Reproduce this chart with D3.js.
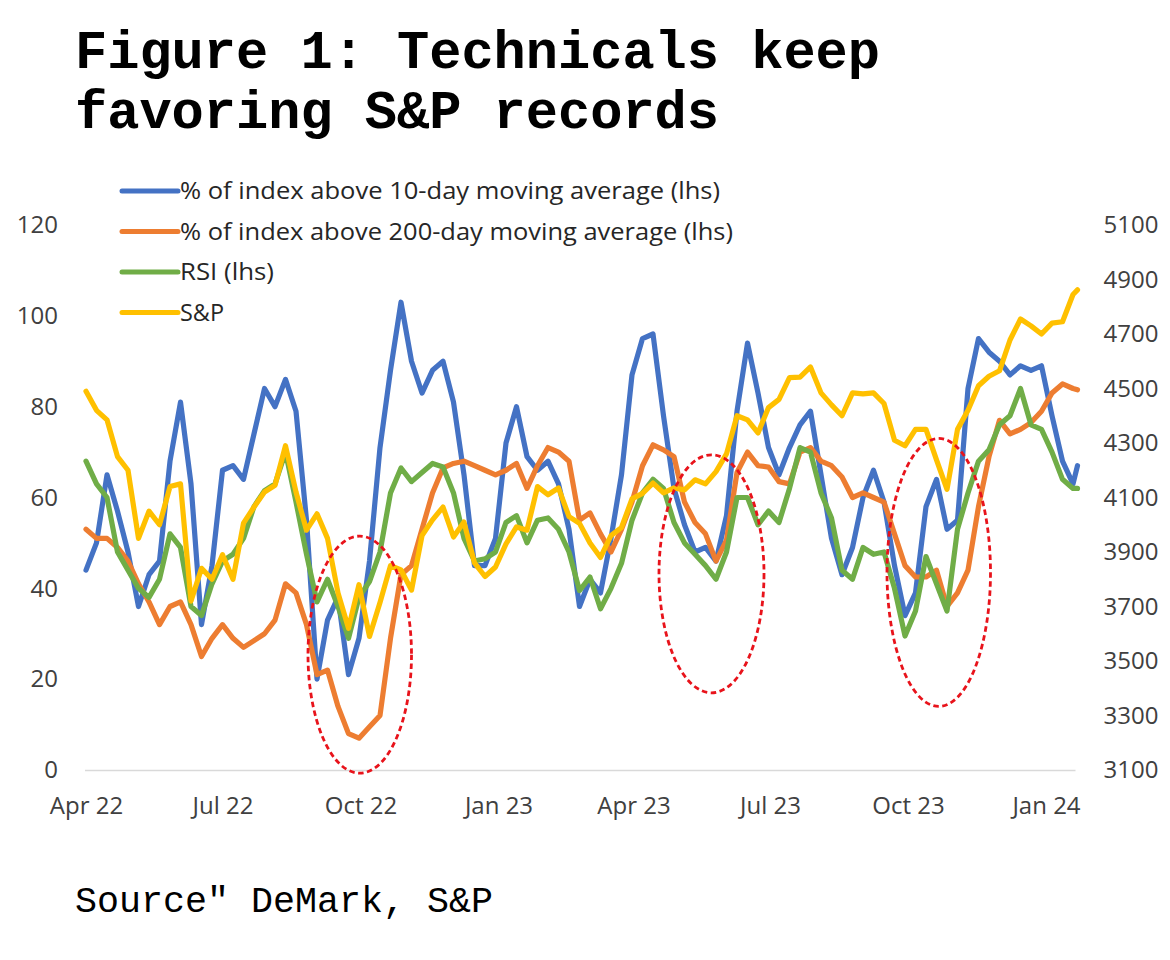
<!DOCTYPE html>
<html>
<head>
<meta charset="utf-8">
<script src="https://cdnjs.cloudflare.com/ajax/libs/d3/7.8.5/d3.min.js"></script>
<style>
  body { margin: 0; background: #ffffff; }
  svg { display: block; }
</style>
</head>
<body>
<svg id="chart" width="1170" height="960"></svg>
<script>
// ---------------- DATA ----------------
const titleLines = ["Figure 1: Technicals keep", "favoring S&P records"];
const sourceText = "Source\" DeMark, S&P";

const seriesNames = [
  "% of index above 10-day moving average (lhs)",
  "% of index above 200-day moving average (lhs)",
  "RSI (lhs)",
  "S&P"
];

// weekly observations starting 2022-04-01, last point 2024-01-22
const firstDate = "2022-04-01";
const lastDate = "2024-01-22";

const above10dma = [44,50,65,57,48,36,43,46,68,81, 63,32,45,66,67,64,74,84,80,86,
  79,55,20,33,38,21,29,46,71,88, 103,90,83,88,90,81,65,45,45,51, 72,80,69,66,68,63,53,36,42,39,
  51,65,87,95,96,78,62,54,48,49, 46,56,79,94,83,71,65,71,76,79, 65,51,43,49,60,66,59,45,34,39,
  58,64,53,55,84,95,92,90,87,89, 88,89,78,68,63,67];

const above200dma = [53,51,51,49,46,41,37,32,36,37, 32,25,29,32,29,27,28.5,30,33,41,
  39,32,21,22,14,8,7,9.5,12,29, 43,45,53,61,66.5,67.5,68,67,66,65, 66,67.5,62,67,71,70,68,55,56.6,52,
  48,53,59,67,71.6,70.5,69,59,54.5,52, 46,50.6,65.5,70,67,66.7,63.5,63,70,71, 68,67,64.5,60,61,60,59,52,45,42.5,
  42.5,44,36,39,44,58,69,77,74,75, 76.5,79,83,85,84,83.7];

const rsi = [68,63,60,48,44,40,38,42,52,49, 36,34,41,46,47.5,51,58,61.5,63,70,
  59,47.5,37,42,36,29,38,41.5,48,61, 66.5,63.5,65.5,67.5,66.7,61,51,46,46.5,48, 54.5,56,50,55,55.5,53,48,39.5,42.5,35.5,
  40,45.5,55,61,64,62,54.5,50,47.5,45, 42,48,60,60,54,57,54.5,62,71,70, 61,55.5,44,42,49,47.5,48,40,29.5,35,
  47,41,35,53,61,68,70.5,76,78,84, 76,75,70,64,62,62];

const spx = [4490,4420,4385,4250,4200,3950,4050,4000,4140,4150, 3720,3840,3800,3890,3800,4006,4065,4120,4145,4290,
  4120,3980,4040,3950,3750,3620,3780,3590,3715,3850, 3834,3760,3960,4018,4065,3955,4010,3860,3810,3845,
  3930,3992,3980,4140,4110,4135,4030,4005,3933,3880, 3960,3990,4095,4115,4153,4117,4135,4128,4165,4150,
  4195,4260,4400,4385,4337,4430,4460,4540,4542,4579, 4484,4440,4400,4484,4480,4484,4445,4310,4290,4350,
  4350,4238,4130,4350,4420,4510,4545,4565,4678,4755, 4730,4700,4740,4745,4845,4862];

const leftTicks = [0, 20, 40, 60, 80, 100, 120];
const rightTicks = [3100, 3300, 3500, 3700, 3900, 4100, 4300, 4500, 4700, 4900, 5100];
const monthTickDates = ["2022-04-01","2022-07-01","2022-10-01","2023-01-01","2023-04-01","2023-07-01","2023-10-01","2024-01-01"];
const monthLabels = ["Apr 22","Jul 22","Oct 22","Jan 23","Apr 23","Jul 23","Oct 23","Jan 24"];

// highlighted zones (dashed ellipses), in data units
const zoneStart = ["2022-08-27", "2023-04-18", "2023-09-17"];
const zoneEnd   = ["2022-11-04", "2023-06-27", "2023-11-25"];
const zoneTop    = [51.5, 69.4, 73];
const zoneBottom = [-0.7, 17, 14];

// ---------------- LAYOUT / STYLE ----------------
const colors = ["#4472C4", "#ED7D31", "#70AD47", "#FFC000"];
const parse = d3.timeParse("%Y-%m-%d");
const start = parse(firstDate);
const nWeekly = above10dma.length - 1;
const dates = d3.range(nWeekly).map(i => d3.timeDay.offset(start, 7 * i)).concat([parse(lastDate)]);

const svg = d3.select("#chart");
const plot = { left: 86, right: 1077.5, top: 225, bottom: 770 };

const x = d3.scaleTime().domain([start, parse(lastDate)]).range([plot.left, plot.right]);
const yL = d3.scaleLinear().domain([0, 120]).range([plot.bottom, plot.top]);
const yR = d3.scaleLinear().domain([3100, 5100]).range([plot.bottom, plot.top]);

const tickFont = "'Open Sans', 'Noto Sans', sans-serif";

// Title
svg.append("g").selectAll("text").data(titleLines).join("text")
  .attr("x", 75)
  .attr("y", (d, i) => 68 + i * 60)
  .attr("font-family", "'Courier New', 'Liberation Mono', monospace")
  .attr("font-weight", "bold")
  .attr("font-size", 54)
  .attr("fill", "#000")
  .attr("textLength", d => d.length * 32.2)
  .attr("lengthAdjust", "spacingAndGlyphs")
  .text(d => d);

// Source
svg.append("text")
  .attr("x", 75).attr("y", 912)
  .attr("font-family", "'Courier New', 'Liberation Mono', monospace")
  .attr("font-size", 36.7)
  .attr("fill", "#000")
  .attr("textLength", sourceText.length * 22)
  .attr("lengthAdjust", "spacingAndGlyphs")
  .text(sourceText);

// Axes
const xAxis = d3.axisBottom(x)
  .tickValues(monthTickDates.map(parse))
  .tickFormat((d, i) => monthLabels[i])
  .tickSize(0).tickSizeOuter(0).tickPadding(27);
const gx = svg.append("g").attr("transform", `translate(0,${plot.bottom})`).call(xAxis);
gx.select(".domain").attr("stroke", "#d9d9d9").attr("stroke-width", 1.5)
  .attr("d", `M${plot.left - 1},0.5H${plot.right - 2}`);
gx.selectAll("text").attr("font-family", tickFont).attr("font-size", 24).attr("fill", "#404040");

const gl = svg.append("g").attr("transform", `translate(${plot.left},0)`)
  .call(d3.axisLeft(yL).tickValues(leftTicks).tickFormat(d3.format("d")).tickSize(0).tickPadding(28));
gl.select(".domain").remove();
gl.selectAll("text").attr("font-family", tickFont).attr("font-size", 24).attr("fill", "#404040");

const gr = svg.append("g").attr("transform", `translate(${plot.right},0)`)
  .call(d3.axisRight(yR).tickValues(rightTicks).tickFormat(d3.format("d")).tickSize(0).tickPadding(26));
gr.select(".domain").remove();
gr.selectAll("text").attr("font-family", tickFont).attr("font-size", 24).attr("fill", "#404040");

// Lines
const leftSeries = [above10dma, above200dma, rsi];
const lineL = d3.line().x((d, i) => x(dates[i])).y(d => yL(d));
const lineR = d3.line().x((d, i) => x(dates[i])).y(d => yR(d));

const gLines = svg.append("g").attr("fill", "none")
  .attr("stroke-width", 5.2).attr("stroke-linejoin", "round").attr("stroke-linecap", "round");
leftSeries.forEach((s, k) => {
  gLines.append("path").attr("d", lineL(s)).attr("stroke", colors[k]);
});
gLines.append("path").attr("d", lineR(spx)).attr("stroke", colors[3]);

// Dashed ellipses
svg.append("g").selectAll("ellipse").data(zoneStart).join("ellipse")
  .attr("cx", (d, i) => (x(parse(zoneStart[i])) + x(parse(zoneEnd[i]))) / 2)
  .attr("cy", (d, i) => (yL(zoneTop[i]) + yL(zoneBottom[i])) / 2)
  .attr("rx", (d, i) => (x(parse(zoneEnd[i])) - x(parse(zoneStart[i]))) / 2)
  .attr("ry", (d, i) => (yL(zoneBottom[i]) - yL(zoneTop[i])) / 2)
  .attr("fill", "none").attr("stroke", "#E8131B").attr("stroke-width", 2.8)
  .attr("stroke-dasharray", "5.5,3.5");

// Legend
const legendWidths = [540, 553, 94, 44];
const leg = svg.append("g").selectAll("g").data(seriesNames).join("g")
  .attr("transform", (d, i) => `translate(122,${191 + i * 40.5})`);
leg.append("line").attr("x1", 0).attr("x2", 56).attr("y1", 0).attr("y2", 0)
  .attr("stroke", (d, i) => colors[i]).attr("stroke-width", 5).attr("stroke-linecap", "round");
leg.append("text").attr("x", 58).attr("y", 0).attr("dy", "0.35em")
  .attr("font-family", tickFont).attr("font-size", 23).attr("fill", "#262626")
  .attr("textLength", (d, i) => legendWidths[i]).attr("lengthAdjust", "spacingAndGlyphs")
  .text(d => d);
</script>
</body>
</html>
